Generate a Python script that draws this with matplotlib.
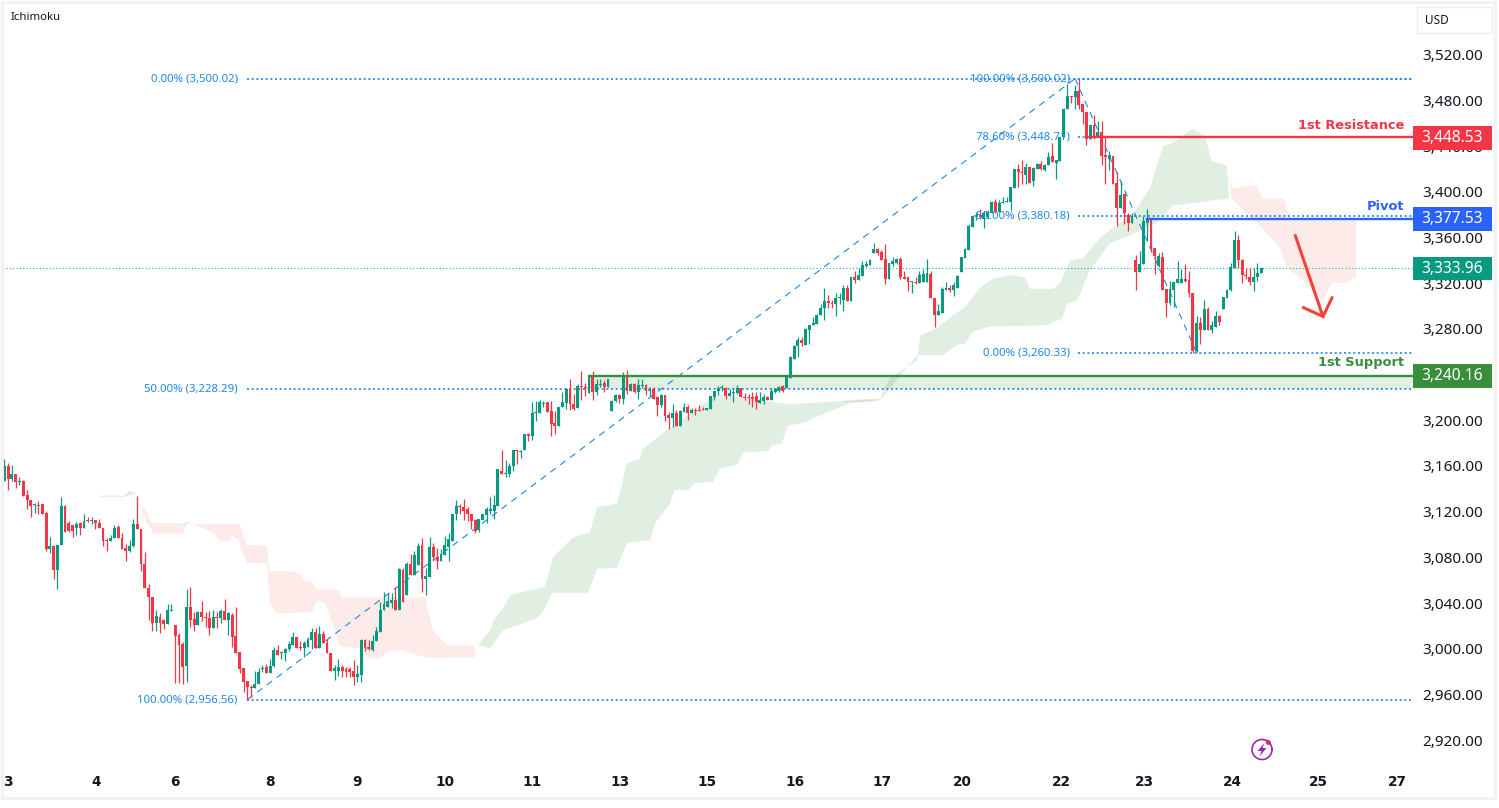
# XAU/USD with Ichimoku cloud, fibonacci levels and support/resistance
import numpy as np
import matplotlib
matplotlib.use('Agg')
import matplotlib.pyplot as plt
from matplotlib.patches import Rectangle, Polygon
from matplotlib.transforms import ScaledTranslation

plt.rcParams['font.family'] = ['Noto Sans', 'DejaVu Sans']

# OHLC, one value per bar
opens = [3147,3160,3149,3153,3146,3147,3135,3130,3126,3126,3127,3119,3087,3090,3069,3091,3125,3110,3108,3106,
         3110,3106,3113,3112,3113,3110,3106,3095,3094,3097,3107,3097,3088,3086,3090,3109,3105,3074,3053,3045,
         3023,3028,3025,3022,3033,3021,3012,3004,2985,3037,3026,3021,3032,3028,3027,3018,3028,3027,3033,3025,
         3030,3011,2997,2983,2972,2967,2966,2969,2982,2984,2979,2985,2999,2996,2996,3000,3003,3010,3002,3001,
         3002,3008,3015,3001,3013,3005,2996,2981,2981,2984,2982,2982,2981,2975,2977,3008,3002,2999,3007,3015,
         3034,3037,3040,3043,3034,3069,3047,3074,3065,3073,3091,3061,3063,3089,3080,3077,3082,3089,3094,3118,
         3125,3124,3122,3118,3113,3104,3113,3117,3121,3121,3125,3156,3153,3153,3160,3174,3172,3174,3188,3186,
         3206,3206,3214,3216,3208,3198,3195,3212,3215,3227,3214,3211,3230,3229,3224,3239,3225,3231,3233,3229,
         3208,3217,3222,3219,3239,3226,3232,3225,3230,3231,3226,3227,3220,3213,3222,3205,3202,3206,3195,3207,
         3212,3206,3209,3209,3210,3209,3210,3220,3226,3228,3228,3221,3224,3224,3228,3220,3220,3220,3221,3215,
         3217,3220,3218,3225,3226,3230,3228,3237,3254,3265,3270,3266,3279,3283,3284,3292,3298,3304,3303,3302,
         3307,3305,3316,3304,3325,3323,3326,3335,3336,3346,3350,3347,3341,3324,3337,3338,3341,3325,3325,3321,
         3321,3320,3321,3321,3328,3307,3292,3294,3314,3316,3314,3316,3330,3342,3349,3369,3378,3380,3376,3378,
         3381,3391,3382,3390,3391,3391,3403,3420,3417,3415,3422,3409,3420,3424,3419,3423,3431,3425,3427,3448,
         3472,3484,3483,3488,3477,3470,3446,3458,3448,3452,3432,3429,3431,3408,3386,3398,3380,3373,3340,3330,
         3337,3373,3376,3351,3335,3343,3315,3303,3314,3320,3320,3324,3323,3311,3261,3285,3279,3297,3279,3282,
         3291,3297,3307,3314,3333,3358,3340,3327,3325,3321,3325,3329]
highs = [3166,3163,3161,3153,3150,3148,3139,3130,3128,3129,3127,3121,3098,3090,3091,3133,3126,3112,3108,3111,
         3111,3118,3115,3115,3113,3114,3106,3097,3100,3108,3108,3101,3092,3095,3114,3134,3105,3085,3057,3045,
         3034,3031,3026,3039,3039,3021,3014,3006,3052,3054,3032,3033,3042,3032,3033,3034,3032,3035,3044,3032,
         3031,3037,2997,2983,2972,2968,2981,2983,2986,2987,2991,3002,3003,2998,3001,3007,3015,3010,3007,3007,
         3010,3018,3018,3020,3016,3009,2996,2986,2991,2986,2984,2984,2990,2986,3009,3009,3008,3012,3019,3041,
         3050,3049,3049,3054,3071,3071,3076,3083,3086,3093,3097,3071,3098,3093,3088,3087,3099,3101,3118,3130,
         3127,3131,3124,3118,3114,3114,3118,3124,3133,3135,3157,3174,3165,3163,3174,3174,3174,3188,3189,3216,
         3217,3218,3217,3216,3217,3208,3212,3225,3228,3236,3223,3232,3243,3233,3240,3243,3236,3236,3235,3236,
         3218,3223,3223,3242,3244,3233,3233,3236,3236,3232,3229,3229,3221,3223,3222,3207,3214,3209,3209,3215,
         3213,3211,3211,3213,3212,3211,3221,3226,3230,3231,3229,3227,3228,3231,3228,3224,3223,3225,3225,3225,
         3223,3221,3228,3228,3230,3231,3239,3256,3266,3273,3273,3281,3283,3290,3293,3302,3316,3310,3305,3311,
         3311,3318,3318,3325,3331,3333,3339,3339,3341,3355,3351,3349,3354,3338,3343,3342,3343,3331,3325,3322,
         3325,3331,3332,3341,3331,3307,3302,3317,3321,3318,3321,3327,3343,3351,3372,3380,3382,3385,3383,3384,
         3392,3394,3393,3395,3395,3404,3420,3424,3428,3425,3422,3422,3425,3427,3424,3435,3443,3428,3448,3473,
         3494,3484,3493,3499,3477,3470,3458,3467,3462,3462,3448,3436,3431,3417,3409,3398,3381,3381,3345,3348,
         3379,3385,3376,3351,3346,3347,3315,3322,3321,3339,3332,3337,3331,3311,3291,3290,3305,3299,3287,3296,
         3292,3308,3315,3338,3366,3362,3341,3333,3333,3333,3338,3334.5]
lows = [3147,3139,3147,3141,3143,3134,3122,3115,3119,3118,3118,3086,3084,3061,3052,3091,3102,3102,3098,3100,
        3100,3106,3111,3109,3105,3106,3090,3086,3094,3097,3097,3087,3077,3085,3089,3105,3068,3053,3025,3016,
        3016,3014,3017,3022,3033,2970,2970,2969,2971,3019,3016,3021,3024,3019,3012,3018,3018,3023,3025,3012,
        3002,2996,2979,2962,2955.5,2958,2966,2969,2980,2979,2979,2984,2995,2991,2989,2998,3003,3001,2999,2993,
        3002,3000,3001,3001,3005,2996,2981,2973,2976,2975,2975,2975,2968,2971,2971,2998,2999,2998,3007,3015,
        3034,3037,3036,3034,3034,3041,3047,3065,3065,3073,3050,3047,3063,3077,3070,3077,3082,3077,3094,3113,
        3118,3113,3112,3105,3101,3102,3113,3110,3118,3114,3125,3153,3150,3150,3156,3162,3167,3174,3182,3183,
        3199,3206,3212,3207,3186,3188,3195,3212,3210,3209,3209,3211,3218,3221,3224,3218,3222,3229,3225,3229,
        3208,3216,3215,3214,3223,3226,3224,3219,3228,3222,3221,3219,3204,3212,3199,3192,3194,3195,3195,3207,
        3200,3206,3205,3208,3209,3209,3210,3218,3222,3226,3219,3221,3216,3223,3220,3218,3214,3212,3210,3215,
        3214,3218,3218,3224,3225,3225,3228,3237,3254,3255,3265,3266,3267,3283,3284,3292,3288,3298,3298,3291,
        3302,3296,3304,3304,3320,3323,3326,3334,3336,3346,3345,3340,3319,3324,3335,3337,3324,3324,3313,3311,
        3319,3320,3321,3321,3307,3282,3292,3294,3314,3312,3309,3316,3330,3342,3349,3369,3375,3376,3368,3376,
        3381,3381,3382,3390,3391,3384,3403,3404,3407,3407,3408,3405,3420,3419,3418,3423,3426,3411,3427,3448,
        3472,3478,3472,3472,3459,3441,3446,3446,3448,3423,3407,3419,3407,3370,3386,3372,3366,3373,3314,3330,
        3337,3357,3347,3328,3334,3314,3290,3301,3299,3320,3320,3321,3308,3259.3,3260,3267,3279,3279,3276,3282,
        3283,3297,3307,3313,3333,3333,3320,3324,3318,3313,3322,3329]
closes = [3160,3149,3153,3146,3147,3134,3130,3125,3127,3125,3118,3087,3090,3069,3091,3125,3102,3103,3103,3109,
          3106,3112,3112,3113,3110,3106,3094,3094,3097,3106,3097,3087,3086,3090,3109,3105,3074,3053,3045,3023,
          3029,3023,3022,3034,3034,3011,3003,2984,3037,3025,3021,3032,3028,3027,3018,3028,3027,3033,3025,3031,
          3010,2996,2982,2971,2967,2966,2969,2980,2983,2979,2985,2999,2995,2997,3000,3004,3010,3001,3001,3005,
          3009,3015,3001,3013,3005,2996,2981,2983,2984,2981,2980,2980,2975,2978,3008,3001,3000,3007,3016,3034,
          3039,3042,3043,3034,3070,3041,3074,3065,3082,3090,3061,3064,3089,3080,3077,3083,3091,3096,3118,3125,
          3124,3121,3118,3112,3103,3114,3118,3122,3122,3126,3157,3153,3154,3160,3174,3173,3173,3188,3186,3206,
          3206.5,3216,3215,3207,3197,3195,3212,3216,3227,3214,3210,3230,3229,3228,3238,3225,3232,3232,3229,3236,
          3217,3222,3219,3239,3226,3232,3225,3231,3231,3226,3226.5,3219,3213,3222,3204,3202,3206,3195,3208,3212,
          3206,3209,3208,3208.5,3209,3211,3221,3226,3228,3228.5,3221,3224,3224.5,3228,3220,3219.5,3219.5,3219,3216,3218,
          3220,3218,3226,3227,3229,3226,3239,3255,3265,3270,3268,3280,3283,3285,3292,3298,3304,3303,3302,3307,
          3307.5,3316,3304,3325,3323,3327,3336,3337,3340,3350,3346,3340,3324,3338,3339,3341,3325,3324,3321,3322,
          3320,3327,3328,3329,3307,3292,3296,3315,3316,3314,3318,3326,3343,3350,3370,3379,3380,3378,3381,3382,
          3391,3382,3390,3391,3392,3404,3420,3417,3416,3422,3408,3421,3424,3420,3423,3430,3426,3428,3448,3472,
          3484,3483,3488,3476,3470,3446,3458,3448,3452,3431,3430,3432,3407,3386,3397,3381,3373,3379,3330,3337,
          3374,3376,3351,3344,3344,3314,3303,3315,3321,3324,3324,3322,3311,3261,3285,3279,3297,3279,3283,3291,
          3286,3308,3314,3334,3358,3340,3327,3326,3321,3325,3329,3333]

# cloud outlines: bar number and price along the upper and the lower edge
green1_x = [25.0, 31.5, 33.0, 35.0, 31.5, 25.0]
green1_y = [3134, 3134, 3138, 3136, 3133, 3133]
red1_top_x = [35.7, 37.5, 38.8, 47.2]
red1_top_y = [3127, 3120, 3110, 3110]
red1_bot_x = [35.7, 37.5, 39.3, 47.2]
red1_bot_y = [3126.4, 3111, 3101, 3101]
green2_x = [47.2, 48.5, 49.8, 48.5, 47.6, 47.2]
green2_y = [3110, 3111, 3109, 3110, 3108, 3101]
red2_top_x = [49.8, 62.1, 63.8, 69.1, 69.8, 76.1, 78.3, 78.8, 81, 82.3, 88, 88.9, 104.2, 110.8, 113, 116.6, 124]
red2_top_y = [3109, 3109, 3091, 3090, 3068, 3068, 3064, 3060, 3058.5, 3052, 3052, 3045, 3045, 3045, 3016, 3003, 3003]
red2_bot_x = [49.8, 50.7, 55.1, 56.8, 59.5, 59.9, 61.7, 62.5, 63.8, 69.1, 69.98, 71.8, 81, 82.3, 84.5, 86.7, 88.4,
              94.6, 95, 98.1, 101.6, 104.2, 106, 111.6, 124]
red2_bot_y = [3109, 3108, 3101, 3094.5, 3094.5, 3099, 3095, 3086, 3075, 3075, 3040, 3031, 3032, 3042, 3040, 3019, 3002,
              3000, 2993, 2991, 2998, 2999, 2997, 2992, 2992.5]
green3_top_x = [124.8, 127.9, 129.2, 131.3, 133.2, 137.7, 142.4, 144.5, 149.8, 154.2, 156.1, 161.4, 164, 167.4, 168.2,
                173.5, 186.6, 188.5, 197.7, 206.9, 222, 230.6]
green3_top_y = [3003, 3016, 3027, 3035.4, 3047, 3051, 3054, 3080, 3097.5, 3102, 3124, 3127, 3163, 3166, 3175,
                3189, 3220, 3222, 3218, 3214, 3217, 3219]
green3_bot_x = [124.8, 127.9, 131.3, 140.3, 142.4, 144.2, 153.7, 156.1, 161.4, 164, 170.1, 171.4, 175.3, 176.6, 180.1,
                181.9, 186.6, 188.5, 192.9, 194.6, 201.1, 202.2, 204.8, 206.4, 209.6, 222.7, 230.6]
green3_bot_y = [3003, 3000.5, 3016, 3027, 3035, 3049, 3049, 3070, 3071, 3093, 3095, 3110, 3127, 3139, 3139,
                3145, 3146, 3158, 3160.5, 3172, 3173, 3178, 3180, 3195.5, 3197, 3215, 3217.5]
sliver_x = [221, 228, 230.5, 228, 221]
sliver_y = [3217.5, 3218.5, 3218, 3216, 3216]
green4_top_x = [230.6, 231.4, 233.3, 240.4, 241.2, 245.6, 249.9, 253, 257, 260.4, 264.9, 268.8, 270.1, 276.2, 278,
                280.7, 284.1, 288.6, 297.3, 301.7, 305.2, 307.8, 312.8, 316.2, 318, 322, 322.5]
green4_top_y = [3217, 3226, 3237.5, 3252, 3274, 3281, 3292, 3299, 3316, 3324, 3327, 3325, 3315, 3315, 3320,
                3340, 3341.6, 3360, 3381, 3403, 3440, 3443, 3455, 3449, 3427, 3423, 3394]
green4_bot_x = [230.6, 240.4, 247.2, 250.9, 253, 254.9, 259.1, 274.1, 277.2, 278.6, 279.9, 282.5, 285.9, 291.2, 296.5,
                303.6, 307.8, 322, 322.5]
green4_bot_y = [3217, 3257, 3257, 3266, 3267, 3277, 3282, 3283, 3287, 3289, 3302, 3305, 3331, 3355, 3362,
                3373, 3388, 3394, 3394]
red3_top_x = [322.3, 323.3, 329.9, 331.2, 337, 338.6, 356]
red3_top_y = [3412, 3403, 3405.5, 3394, 3394, 3375, 3375]
red3_bot_x = [322.3, 323.3, 330.7, 336, 337.8, 342, 347.3, 349.7, 353.1, 356]
red3_bot_y = [3412, 3394, 3370, 3351, 3333.7, 3322, 3305, 3320.6, 3320, 3325]

# fibonacci levels
fib_up_low = 2956.56
fib_up_mid = 3228.29
fib_up_high = 3500.02
fib_dn_786 = 3448.71
fib_dn_500 = 3380.18
fib_dn_low = 3260.33

resistance = 3448.53
pivot = 3377.53
support = 3240.16
last_price = 3333.96

price_ticks = np.arange(2920, 3521, 40)
date_labels = ['3', '4', '6', '8', '9', '10', '11', '13', '15', '16', '17', '20', '22', '23', '24', '25', '27']
date_bars = [1, 24.1, 45, 70, 92.9, 116, 139, 162.2, 185, 208.2, 231.2, 252.2, 278.3, 300.2, 323.3, 346.2, 367]

arrow_x = [340, 347.3]
arrow_y = [3362.7, 3291.8]
arrow_head_x = [342.1, 347.3, 349.7]
arrow_head_y = [3299.7, 3291.8, 3308.4]

# the prices above were read against the tick labels, which sit about a unit off the lines
read_offset = 1.0

UP = '#089981'
DOWN = '#f23645'
FIB = '#1e88e5'
SUP = '#388e3c'
PIV = '#2962ff'
CLOUD_G = '#43a047'
CLOUD_R = '#f44336'

W, H = 1499, 808


def fx(x):
    return x / W


def fy(y):
    return 1 - y / H


fig = plt.figure(figsize=(W / 100, H / 100), dpi=100, facecolor='white')
ax = fig.add_axes([fx(3), fy(768), fx(1413) - fx(3), fy(3) - fy(768)])
ax.set_xlim(-0.34, 371)
ax.set_ylim(2896.7, 3566.2)
for s in ax.spines.values():
    s.set_visible(False)

# card border
fig.add_artist(Rectangle((fx(1.5), fy(798)), fx(1495) - fx(1.5), fy(1.5) - fy(798), transform=fig.transFigure,
                         fill=False, edgecolor='#f2f2f2', linewidth=2.2))


# clouds
def cloud(top_x, top_y, bot_x, bot_y, color, alpha):
    xs = list(top_x) + list(bot_x)[::-1]
    ys = list(top_y) + list(bot_y)[::-1]
    ax.fill(xs, np.array(ys) + read_offset, color=color, alpha=alpha, linewidth=0, zorder=1)


ax.fill(green1_x, np.array(green1_y) + read_offset, color=CLOUD_G, alpha=0.16, linewidth=0, zorder=1)
cloud(red1_top_x, red1_top_y, red1_bot_x, red1_bot_y, CLOUD_R, 0.1)
ax.fill(green2_x, np.array(green2_y) + read_offset, color=CLOUD_G, alpha=0.16, linewidth=0, zorder=1)
cloud(red2_top_x, red2_top_y, red2_bot_x, red2_bot_y, CLOUD_R, 0.1)
cloud(green3_top_x, green3_top_y, green3_bot_x, green3_bot_y, CLOUD_G, 0.16)
ax.fill(sliver_x, np.array(sliver_y) + read_offset, color=CLOUD_R, alpha=0.1, linewidth=0, zorder=1)
cloud(green4_top_x, green4_top_y, green4_bot_x, green4_bot_y, CLOUD_G, 0.16)
cloud(red3_top_x, red3_top_y, red3_bot_x, red3_bot_y, CLOUD_R, 0.1)

# support zone
ax.fill_between([154, 371], fib_up_mid, support, color=CLOUD_G, alpha=0.16, linewidth=0, zorder=1)

# fib lines
dots = dict(color=FIB, linewidth=1.2, linestyle=(0, (1.2, 1.6)), zorder=2)
for level in [fib_up_low, fib_up_mid, fib_up_high]:
    ax.plot([64, 371], [level, level], **dots)
for level in [fib_up_high, fib_dn_786, fib_dn_500, fib_dn_low]:
    ax.plot([282.8, 371], [level, level], **dots)
dashes = dict(color=FIB, linewidth=0.8, linestyle=(0, (6, 5)), zorder=2)
ax.plot([64, 282], [fib_up_low, fib_up_high], **dashes)
ax.plot([282, 314], [fib_up_high, fib_dn_low], **dashes)

# last price line
ax.axhline(last_price, color=UP, linewidth=0.7, linestyle=(0, (1, 2.4)), zorder=2)

# candles
o = np.array(opens) + read_offset
h = np.array(highs) + read_offset
l = np.array(lows) + read_offset
c = np.array(closes) + read_offset
bars = np.arange(len(o))
colors = [UP if cl >= op else DOWN for op, cl in zip(o, c)]
ax.vlines(bars, l, h, colors=colors, linewidth=0.9, zorder=3)
body = np.maximum(np.abs(c - o), 0.9)
ax.bar(bars, body, bottom=np.minimum(o, c), width=0.76, color=colors, linewidth=0, zorder=3)

# levels
ax.plot([286, 371], [resistance, resistance], color=DOWN, linewidth=1.7, zorder=4)
ax.plot([301, 371], [pivot, pivot], color=PIV, linewidth=1.7, zorder=4)
ax.plot([154, 371], [support, support], color=SUP, linewidth=1.7, zorder=4)

lab = dict(color=FIB, fontsize=8.2, ha='right', va='center', zorder=5)
ax.text(61.5, fib_up_high, '0.00% (3,500.02)', **lab)
ax.text(61.5, fib_up_mid, '50.00% (3,228.29)', **lab)
ax.text(61.5, fib_up_low, '100.00% (2,956.56)', **lab)
ax.text(280.7, fib_up_high, '100.00% (3,500.02)', **lab)
ax.text(280.7, fib_dn_786, '78.60% (3,448.71)', **lab)
ax.text(280.7, fib_dn_500, '50.00% (3,380.18)', **lab)
ax.text(280.7, fib_dn_low, '0.00% (3,260.33)', **lab)

# Noto Sans has no heavier cut here, DejaVu Bold does
lev = dict(family='DejaVu Sans', fontsize=9.4, fontweight='bold', ha='right', va='center', zorder=5)
ax.text(368.6, resistance + 10.5, '1st Resistance', color=DOWN, **lev)
ax.text(368.6, pivot + 10.5, 'Pivot', color=PIV, **lev)
ax.text(368.6, support + 11.5, '1st Support', color=SUP, **lev)

# forecast arrow
ax.plot(arrow_x, arrow_y, color='#f44336', linewidth=2.2, solid_capstyle='round', zorder=5)
ax.plot(arrow_head_x, arrow_head_y, color='#f44336', linewidth=2.2, solid_capstyle='round',
        solid_joinstyle='miter', zorder=5)

# axes
ax.yaxis.tick_right()
ax.set_yticks(price_ticks)
ax.set_yticklabels(['{:,.2f}'.format(p) for p in price_ticks], fontsize=11, color='#131722')
ax.set_xticks(date_bars)
ax.set_xticklabels(date_labels, family='DejaVu Sans', fontsize=9.8, fontweight='bold', color='#131722')
ax.tick_params(axis='y', length=0, pad=7)
ax.tick_params(axis='x', length=0, pad=5)
ax.patch.set_alpha(0)
# tick labels sit a touch above their lines
up_px = ScaledTranslation(0, 1.2 / 100, fig.dpi_scale_trans)
for t in ax.get_yticklabels():
    t.set_transform(t.get_transform() + up_px)

# price tags on the axis
trans = ax.get_yaxis_transform()
for price, txt, col in [(resistance, '3,448.53', DOWN), (pivot, '3,377.53', PIV),
                        (last_price, '3,333.96', UP), (support, '3,240.16', SUP)]:
    ax.add_patch(Rectangle((1.0, price - 10.6), 79 / 1410, 20.4, transform=trans, clip_on=False,
                           facecolor=col, edgecolor='none', zorder=6))
    ax.text(1 + 39.5 / 1410, price - 0.4, txt, transform=trans, color='white', fontsize=11.2, ha='center',
            va='center', zorder=7, clip_on=False)

# header bits
fig.text(fx(11), fy(17), 'Ichimoku', fontsize=8.2, color='#131722', ha='left', va='center')
fig.add_artist(Rectangle((fx(1417), fy(33)), 75 / W, 26 / H, transform=fig.transFigure, fill=False,
                         edgecolor='#ededed', linewidth=0.9))
fig.text(fx(1425), fy(20), 'USD', fontsize=8.5, color='#131722', ha='left', va='center')

# lightning badge
fig.add_artist(plt.Line2D(fx(1262 + 10 * np.cos(np.linspace(0, 6.283, 60))),
                          fy(749.5 + 10 * np.sin(np.linspace(0, 6.283, 60))),
                          color='#9c27b0', linewidth=1.2))
fig.add_artist(Polygon([(fx(1264.5), fy(743)), (fx(1257.5), fy(751)), (fx(1261.5), fy(751)),
                        (fx(1259.5), fy(756.5)), (fx(1266.5), fy(748)), (fx(1262.5), fy(748))],
                       closed=True, transform=fig.transFigure, facecolor='#9c27b0', edgecolor='none'))
fig.add_artist(Polygon(np.c_[fx(1268.3 + 2.8 * np.cos(np.linspace(0, 6.283, 24))),
                             fy(742.5 + 2.8 * np.sin(np.linspace(0, 6.283, 24)))],
                       closed=True, transform=fig.transFigure, facecolor='#f23645', edgecolor='white', linewidth=0.4))

fig.savefig('out.png', dpi=100)
